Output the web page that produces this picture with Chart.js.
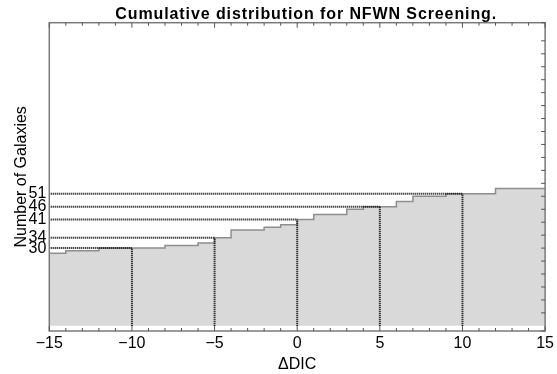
<!DOCTYPE html>
<html>
<head>
<meta charset="utf-8">
<title>Cumulative distribution for NFWN Screening.</title>
<script src="https://cdn.jsdelivr.net/npm/chart.js@4.4.1/dist/chart.umd.min.js"></script>
<style>
  html, body { margin: 0; padding: 0; background: #fff; }
  #wrap { width: 557px; height: 374px; }
</style>
</head>
<body>
<div id="wrap"><canvas id="cdfChart"></canvas></div>
<script>
// step positions (ΔDIC) and cumulative galaxy counts
const stepX = [-15, -14, -12, -8, -6, -5, -4, -2, -1, 0, 1, 3, 4, 6, 7, 9, 12, 15];
const stepY = [28, 29, 30, 31, 32, 34, 37, 38, 39, 41, 43, 45, 46, 48, 50, 51, 53, 53];

const markX = [-10, -5, 0, 5, 10];
const markY = [30, 34, 41, 46, 51];

const xTicks = [-15, -10, -5, 0, 5, 10, 15];
const titleText = 'Cumulative distribution for NFWN Screening.';

const FONT = 'Arial, "Liberation Sans", Helvetica, sans-serif';

function fmtNum(v) {
    return v < 0 ? '\u2212' + Math.abs(v) : String(v);
}

// dotted guides: horizontal from the left edge, vertical from zero
const guideData = [];
markX.forEach((mx, i) => {
    guideData.push({ x: stepX[0], y: markY[i] }, { x: mx, y: markY[i] }, { x: mx, y: NaN });
    guideData.push({ x: mx, y: 0 }, { x: mx, y: markY[i] }, { x: mx, y: NaN });
});

// frame, inward tick marks and the title
const framePlugin = {
    id: 'frame',
    afterDraw(chart) {
        const { ctx, chartArea: a, scales } = chart;
        ctx.save();
        ctx.strokeStyle = '#7a7a7a';
        ctx.lineWidth = 1.5;
        ctx.strokeRect(a.left, a.top, a.right - a.left, a.bottom - a.top);

        ctx.lineWidth = 1;
        ctx.strokeStyle = '#555';
        ctx.beginPath();
        scales.x.ticks.forEach(t => {
            const px = scales.x.getPixelForValue(t.value);
            const len = t.value % 5 === 0 ? 5 : 3;
            ctx.moveTo(px, a.bottom); ctx.lineTo(px, a.bottom - len);
            ctx.moveTo(px, a.top); ctx.lineTo(px, a.top + len);
        });
        scales.y2.ticks.forEach(t => {
            const py = scales.y2.getPixelForValue(t.value);
            ctx.moveTo(a.right, py); ctx.lineTo(a.right - 4, py);
        });
        ctx.stroke();

        ctx.fillStyle = '#000';
        ctx.font = 'bold 16px ' + FONT;
        ctx.letterSpacing = '0.9px';
        ctx.textAlign = 'center';
        ctx.textBaseline = 'alphabetic';
        ctx.fillText(titleText, (a.left + a.right) / 2 + 9, 18.5);
        ctx.restore();
    }
};

new Chart(document.getElementById('cdfChart'), {
    type: 'line',
    data: {
        datasets: [
            {
                label: 'guides',
                data: guideData,
                borderColor: '#000',
                borderWidth: 2,
                borderDash: [1, 1],
                pointRadius: 0,
                fill: false,
                spanGaps: false,
                order: 0
            },
            {
                label: 'cumulative',
                data: stepX.map((x, i) => ({ x, y: stepY[i] })),
                // horizontal run first, then the rise at the next point
                stepped: 'before',
                borderColor: '#8e8e8e',
                borderWidth: 1.5,
                backgroundColor: '#d9d9d9',
                fill: 'origin',
                pointRadius: 0,
                order: 1
            }
        ]
    },
    options: {
        responsive: true,
        maintainAspectRatio: false,
        animation: false,
        layout: { padding: { top: 22.7, right: 7.7, left: 0, bottom: 0 } },
        plugins: {
            legend: { display: false },
            tooltip: { enabled: false }
        },
        scales: {
            x: {
                type: 'linear',
                min: -15,
                max: 15,
                grid: { display: false, drawTicks: false },
                border: { display: false },
                afterFit: s => { s.height = 43; },
                ticks: {
                    stepSize: 1,
                    autoSkip: false,
                    maxRotation: 0,
                    padding: 3,
                    color: '#000',
                    font: { family: FONT, size: 16 },
                    callback: v => (xTicks.includes(v) ? fmtNum(v) : '')
                },
                title: {
                    display: true,
                    text: '\u0394DIC',
                    color: '#000',
                    font: { family: FONT, size: 16 },
                    padding: { top: 0, bottom: 0 }
                }
            },
            y: {
                position: 'left',
                min: -2,
                max: 117,
                grid: { display: false, drawTicks: false },
                border: { display: false },
                afterFit: s => { s.width = 49.3; },
                afterBuildTicks: s => { s.ticks = markY.map(v => ({ value: v })); },
                ticks: {
                    autoSkip: false,
                    padding: 3,
                    color: '#000',
                    font: { family: FONT, size: 16, lineHeight: 1 },
                    callback: v => String(v)
                },
                title: {
                    display: true,
                    text: 'Number of Galaxies',
                    color: '#000',
                    font: { family: FONT, size: 16 },
                    padding: { top: 12, bottom: 0 }
                }
            },
            y2: {
                position: 'right',
                min: -2,
                max: 117,
                grid: { display: false, drawTicks: false },
                border: { display: false },
                afterFit: s => { s.width = 0; },
                ticks: { display: false, stepSize: 5 }
            }
        }
    },
    plugins: [framePlugin]
});
</script>
</body>
</html>
